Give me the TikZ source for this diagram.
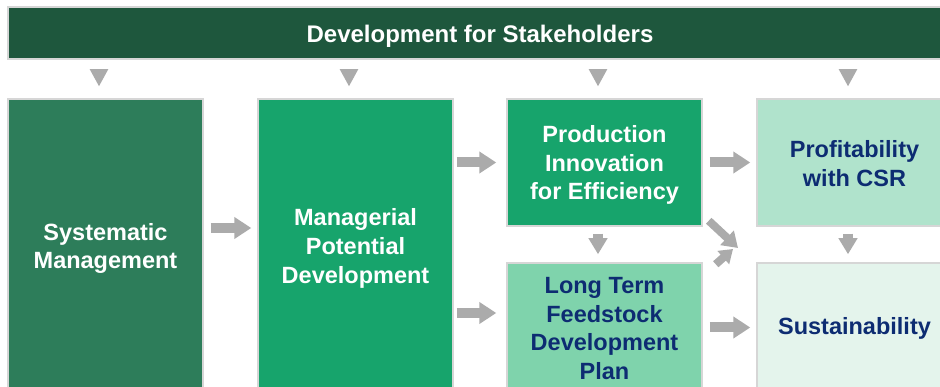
\documentclass[tikz,border=0pt]{standalone}
\usepackage{fontspec}
\setmainfont{Liberation Sans}
\usetikzlibrary{arrows.meta,calc}
\definecolor{barcol}{HTML}{1E573D}
\definecolor{cone}{HTML}{2D7D5A}
\definecolor{ctwo}{HTML}{17A46C}
\definecolor{cfour}{HTML}{7FD3AC}
\definecolor{cfive}{HTML}{B0E3CC}
\definecolor{csix}{HTML}{E4F4EC}
\definecolor{navy}{HTML}{0D2C72}
\definecolor{arrcol}{HTML}{ABABAB}
\definecolor{edgecol}{HTML}{D6D6D6}
\begin{document}
\begin{tikzpicture}[x=1pt,y=-1pt,
  box/.style={draw=edgecol, line width=1.5pt, rectangle, minimum width=195pt, inner sep=0pt},
  txt/.style={align=center, inner sep=0pt, font=\fontsize{23.5}{28.8}\selectfont\bfseries},
  fat/.style={draw=arrcol, line width=10pt, -{Triangle[length=17pt,width=21pt]}},
  downfat/.style={draw=arrcol, line width=10pt, -{Triangle[length=16pt,width=18pt]}},
  tri/.style={draw=arrcol, line width=2pt, -{Triangle[length=17pt,width=18pt]}},
  diag/.style={draw=arrcol, line width=8pt, -{Triangle[length=15pt,width=19pt]}}
]
\useasboundingbox (0,0) rectangle (940,387);
\clip (0,0) rectangle (940,387);
\fill[white] (0,0) rectangle (940,387);

\node[box, fill=barcol, minimum width=944pt, minimum height=52pt] (top) at (480,33) {};
\node[txt, text=white, font=\fontsize{24}{28.8}\selectfont\bfseries] (ttop) at ([yshift=-3pt]top.center) {Development for Stakeholders};

\node[box, fill=cone, minimum height=294pt] (b1) at (105.5,246) {};
\node[box, fill=ctwo, minimum height=294pt] (b2) at (355.5,246) {};
\node[box, fill=ctwo, minimum height=127pt] (b3) at (604.5,162.5) {};
\node[box, fill=cfour, minimum height=129pt] (b4) at (604.5,327.5) {};
\node[box, fill=cfive, minimum height=127pt] (b5) at (854.5,162.5) {};
\node[box, fill=csix, minimum height=129pt] (b6) at (854.5,327.5) {};

\node[txt, text=white] (t1) at ([yshift=-2.5pt]b1.center) {Systematic\\Management};
\node[txt, text=white] (t2) at ([yshift=-2.5pt]b2.center) {Managerial\\Potential\\Development};
\node[txt, text=white] (t3) at ([yshift=-2.5pt]b3.center) {Production\\Innovation\\for Efficiency};
\node[txt, text=navy] (t4) at ([yshift=-1pt]b4.center) {Long Term\\Feedstock\\Development\\Plan};
\node[txt, text=navy] (t5) at ([yshift=-1pt]b5.center) {Profitability\\with CSR};
\node[txt, text=navy] (t6) at ([yshift=-1pt]b6.center) {Sustainability};

% top row triangles
\foreach \b in {b1,b2,b3,b5}{
  \draw[tri, shorten <=10pt, shorten >=12pt] ($(top.south -| \b.north)+(-6.5,0)$) -- ($(\b.north)+(-6.5,0)$);
}

% middle down arrows
\draw[downfat, shorten <=7pt, shorten >=8pt] ($(b3.south)+(-6.5,0)$) -- ($(b4.north)+(-6.5,0)$);
\draw[downfat, shorten <=7pt, shorten >=8pt] ($(b5.south)+(-6.5,0)$) -- ($(b6.north)+(-6.5,0)$);

% right arrows
\draw[fat, shorten <=7pt, shorten >=6pt] ([yshift=18pt]b1.east) -- ([yshift=18pt]b1.east -| b2.west);
\draw[fat, shorten <=3pt, shorten >=10pt] (b2.east |- b3.west) -- (b3.west);
\draw[fat, shorten <=3pt, shorten >=10pt] ([yshift=14.5pt]b2.east |- b4.west) -- ([yshift=14.5pt]b4.west);
\draw[fat, shorten <=7pt, shorten >=6pt] (b3.east) -- (b5.west);
\draw[fat, shorten <=7pt, shorten >=6pt] (b4.east) -- (b6.west);

% converging diagonal arrows
\coordinate (meet) at (738,248);
\coordinate (meettwo) at (733,249);
\draw[diag] ($(b3.south east)+(6,-6)$) -- (meet);
\draw[diag, -{Triangle[length=13pt,width=17pt]}] ($(b4.north east)+(13,2)$) -- (meettwo);
\end{tikzpicture}
\end{document}
